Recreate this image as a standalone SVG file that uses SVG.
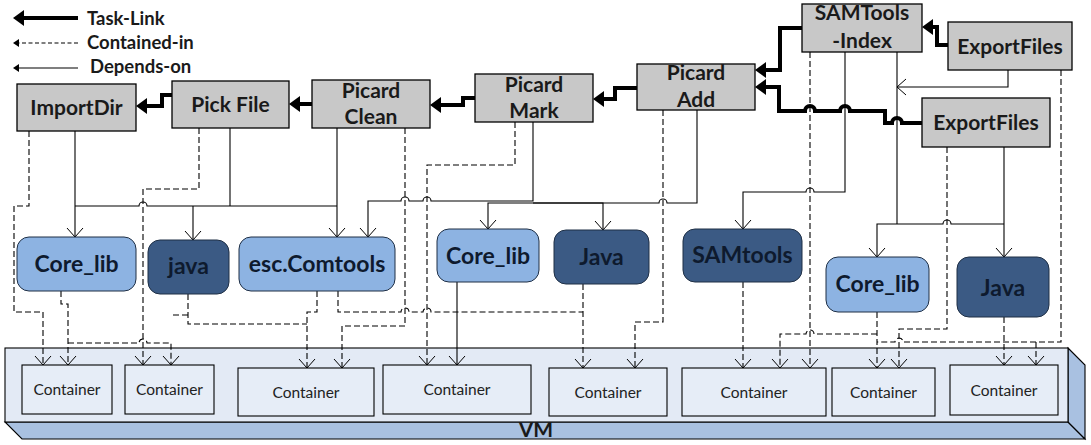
<svg xmlns="http://www.w3.org/2000/svg" width="1091" height="445" viewBox="0 0 1091 445">
<style>
.task{fill:#C8C8C8;stroke:#000;stroke-width:1.3}
.lt{fill:#8DB3E2;stroke:#1F2F45;stroke-width:1}
.dk{fill:#3B5A84;stroke:#1F2F45;stroke-width:1}
.cont{fill:#E6EDF7;stroke:#000;stroke-width:1.1}
.t{font-family:Lato,"Liberation Sans",sans-serif;font-weight:bold;text-anchor:middle;fill:#1A1A1A;font-size:21px}
.m{font-size:23px;fill:#0E1A2E}
.c{font-weight:normal;font-size:15.5px;fill:#222}
.lg{text-anchor:start;font-size:18.5px}
.dep{fill:none;stroke:#000;stroke-width:1.1}
.con{fill:none;stroke:#000;stroke-width:1.1;stroke-dasharray:6 3}
.tl{fill:none;stroke:#000;stroke-width:4}
</style>
<defs>
<marker id="th" markerUnits="userSpaceOnUse" markerWidth="20" markerHeight="20" refX="0" refY="0" orient="auto" viewBox="-1 -10 14 20" overflow="visible"><path d="M0,-8 L11,0 L0,8 z" fill="#000"/></marker>
<marker id="op" markerUnits="userSpaceOnUse" markerWidth="20" markerHeight="20" refX="0" refY="0" orient="auto" viewBox="-10 -10 12 20" overflow="visible"><path d="M-9,-8 L0,0 L-9,8" fill="none" stroke="#000" stroke-width="1"/></marker>
<marker id="sm" markerUnits="userSpaceOnUse" markerWidth="10" markerHeight="10" refX="0" refY="0" orient="auto" viewBox="-1 -5 8 10" overflow="visible"><path d="M0,-4 L6,0 L0,4 z" fill="#000"/></marker>
</defs>

<g id="legend">
<path class="tl" d="M78,18 H24" marker-end="url(#th)"/>
<path class="con" d="M78,43 H19" marker-end="url(#sm)" style="stroke-dasharray:4 2.5"/>
<path class="dep" d="M78,68 H19" marker-end="url(#sm)"/>
<text class="t lg" x="87" y="25">Task-Link</text>
<text class="t lg" x="87" y="49">Contained-in</text>
<text class="t lg" x="90" y="73">Depends-on</text>
</g>

<g id="vm">
<path d="M5,422 H1068 L1085,439 H22 Z" fill="#A9C1E1" stroke="#000" stroke-width="1.1"/>
<path d="M1068,348 L1085,365 V439 L1068,422 Z" fill="#A9C1E1" stroke="#000" stroke-width="1.1"/>
<rect x="5" y="348" width="1063" height="74" fill="#E3EAF5" stroke="#000" stroke-width="1.1"/>
<text class="t" x="536" y="437">VM</text>
</g>

<g id="containers">
<g id="c1"><rect class="cont" x="22" y="365" width="90" height="49"/><text class="t c" x="67" y="395">Container</text></g>
<g id="c2"><rect class="cont" x="125" y="365" width="89" height="49"/><text class="t c" x="169.5" y="395">Container</text></g>
<g id="c3"><rect class="cont" x="238" y="368" width="136" height="48"/><text class="t c" x="306" y="397.5">Container</text></g>
<g id="c4"><rect class="cont" x="383" y="365" width="148" height="49"/><text class="t c" x="457" y="395">Container</text></g>
<g id="c5"><rect class="cont" x="549" y="368" width="118" height="48"/><text class="t c" x="608" y="397.5">Container</text></g>
<g id="c6"><rect class="cont" x="682" y="368" width="144" height="48"/><text class="t c" x="754" y="397.5">Container</text></g>
<g id="c7"><rect class="cont" x="832" y="368" width="103" height="48"/><text class="t c" x="883.5" y="397.5">Container</text></g>
<g id="c8"><rect class="cont" x="950" y="365" width="108" height="50"/><text class="t c" x="1004" y="395.5">Container</text></g>
</g>

<g id="connectors">
<!-- task links -->
<path class="tl" d="M172,95 H162 V106 H147" marker-end="url(#th)"/>
<path class="tl" d="M312,104 H300" marker-end="url(#th)"/>
<path class="tl" d="M475,98 H463 V105 H441" marker-end="url(#th)"/>
<path class="tl" d="M637,88 H615 V99 H604" marker-end="url(#th)"/>
<path class="tl" d="M802,28 H780 V70 H766" marker-end="url(#th)"/>
<path class="tl" d="M922,123 H902 A5,5 0 0 0 892,123 H885 V111 H850 A5,5 0 0 0 840,111 H815 A5,5 0 0 0 805,111 H779 V87 H766" marker-end="url(#th)"/>
<path class="tl" d="M948,45 H937 V27 H933" marker-end="url(#th)"/>

<!-- depends-on -->
<path class="dep" d="M75,131 V237" marker-end="url(#op)"/>
<path class="dep" d="M75,206 H139 A4,4 0 0 1 147,206 H337"/>
<path class="dep" d="M230,128 V206"/>
<path class="dep" d="M193,206 V240" marker-end="url(#op)"/>
<path class="dep" d="M337,128 V237" marker-end="url(#op)"/>
<path class="dep" d="M533,122 V201 H431 A4,4 0 0 0 423,201 H409 A4,4 0 0 0 401,201 H368 V237" marker-end="url(#op)"/>
<path class="dep" d="M697,110 V203 H667 A4,4 0 0 0 659,203 H488 V229" marker-end="url(#op)"/>
<path class="dep" d="M533,203 H603 V230" marker-end="url(#op)"/>
<path class="dep" d="M845,52 V192 H814 A4,4 0 0 0 806,192 H743 V229" marker-end="url(#op)"/>
<path class="dep" d="M897,52 V224"/>
<path class="dep" d="M1004,224 H951 A4,4 0 0 0 943,224 H877 V257" marker-end="url(#op)"/>
<path class="dep" d="M1004,147 V257" marker-end="url(#op)"/>
<path class="dep" d="M1008,70 V87 H897" marker-end="url(#op)"/>
<path class="dep" d="M457,282 V365" marker-end="url(#op)"/>

<!-- contained-in -->
<path class="con" d="M29,131 V206 H14 V312 H43 V365" marker-end="url(#op)"/>
<path class="con" d="M199,128 V189 H143 V365" marker-end="url(#op)"/>
<path class="con" d="M61,291 V304 H68 V365" marker-end="url(#op)"/>
<path class="con" d="M68,343 H139 A4,4 0 0 1 147,343 H171 V365" marker-end="url(#op)"/>
<path class="con" d="M188,294 V324 H307"/>
<path class="con" d="M188,315 H171"/>
<path class="con" d="M317,291 V312 H307 V368" marker-end="url(#op)"/>
<path class="con" d="M338,291 V312 H401 A4,4 0 0 1 409,312 H423 A4,4 0 0 1 431,312 H583"/>
<path class="con" d="M583,284 V368" marker-end="url(#op)"/>
<path class="con" d="M405,128 V326 H342 V368" marker-end="url(#op)"/>
<path class="con" d="M515,122 V165 H427 V365" marker-end="url(#op)"/>
<path class="con" d="M663,110 V322 H635 V368" marker-end="url(#op)"/>
<path class="con" d="M743,282 V368" marker-end="url(#op)"/>
<path class="con" d="M810,52 V368" marker-end="url(#op)"/>
<path class="con" d="M877,334 H814 A4,4 0 0 0 806,334 H780 V368" marker-end="url(#op)"/>
<path class="con" d="M877,312 V368" marker-end="url(#op)"/>
<path class="con" d="M947,147 V329 H899 V368" marker-end="url(#op)"/>
<path class="con" d="M1061,70 V342 H903 A4,4 0 0 0 895,342 H877"/>
<path class="con" d="M1036,342 V365" marker-end="url(#op)"/>
<path class="con" d="M1004,317 V365" marker-end="url(#op)"/>
</g>

<g id="n-importdir"><rect class="task" x="17" y="84" width="119" height="47"/><text class="t" x="76.5" y="115">ImportDir</text></g>
<g id="n-pickfile"><rect class="task" x="172" y="81" width="117" height="47"/><text class="t" x="230.5" y="112">Pick File</text></g>
<g id="n-picardclean"><rect class="task" x="312" y="80" width="118" height="48"/><text class="t" x="371" y="98">Picard</text><text class="t" x="371" y="124">Clean</text></g>
<g id="n-picardmark"><rect class="task" x="475" y="74" width="118" height="48"/><text class="t" x="534" y="92">Picard</text><text class="t" x="534" y="118">Mark</text></g>
<g id="n-picardadd"><rect class="task" x="637" y="64" width="118" height="46"/><text class="t" x="696" y="80">Picard</text><text class="t" x="696" y="107">Add</text></g>
<g id="n-samtoolsindex"><rect class="task" x="802" y="4" width="120" height="48"/><text class="t" x="862" y="20">SAMTools</text><text class="t" x="862" y="48">-Index</text></g>
<g id="n-exportfiles1"><rect class="task" x="948" y="22" width="124" height="48"/><text class="t" x="1010" y="54">ExportFiles</text></g>
<g id="n-exportfiles2"><rect class="task" x="922" y="98" width="128" height="49"/><text class="t" x="986" y="130">ExportFiles</text></g>

<g id="n-corelib1"><rect class="lt" x="17" y="237" width="119" height="54" rx="12"/><text class="t m" x="76.5" y="272">Core_lib</text></g>
<g id="n-java1"><rect class="dk" x="148" y="240" width="81" height="54" rx="12"/><text class="t m" x="188.5" y="274">java</text></g>
<g id="n-esccomtools"><rect class="lt" x="239" y="237" width="156" height="54" rx="12"/><text class="t m" x="317" y="272">esc.Comtools</text></g>
<g id="n-corelib2"><rect class="lt" x="437" y="229" width="102" height="53" rx="12"/><text class="t m" x="488" y="264">Core_lib</text></g>
<g id="n-java2"><rect class="dk" x="554" y="230" width="95" height="54" rx="12"/><text class="t m" x="601.5" y="265">Java</text></g>
<g id="n-samtools"><rect class="dk" x="683" y="229" width="119" height="53" rx="12"/><text class="t m" x="742.5" y="263">SAMtools</text></g>
<g id="n-corelib3"><rect class="lt" x="826" y="257" width="103" height="55" rx="12"/><text class="t m" x="877.5" y="292">Core_lib</text></g>
<g id="n-java3"><rect class="dk" x="957" y="257" width="92" height="60" rx="12"/><text class="t m" x="1003" y="296">Java</text></g>
</svg>
